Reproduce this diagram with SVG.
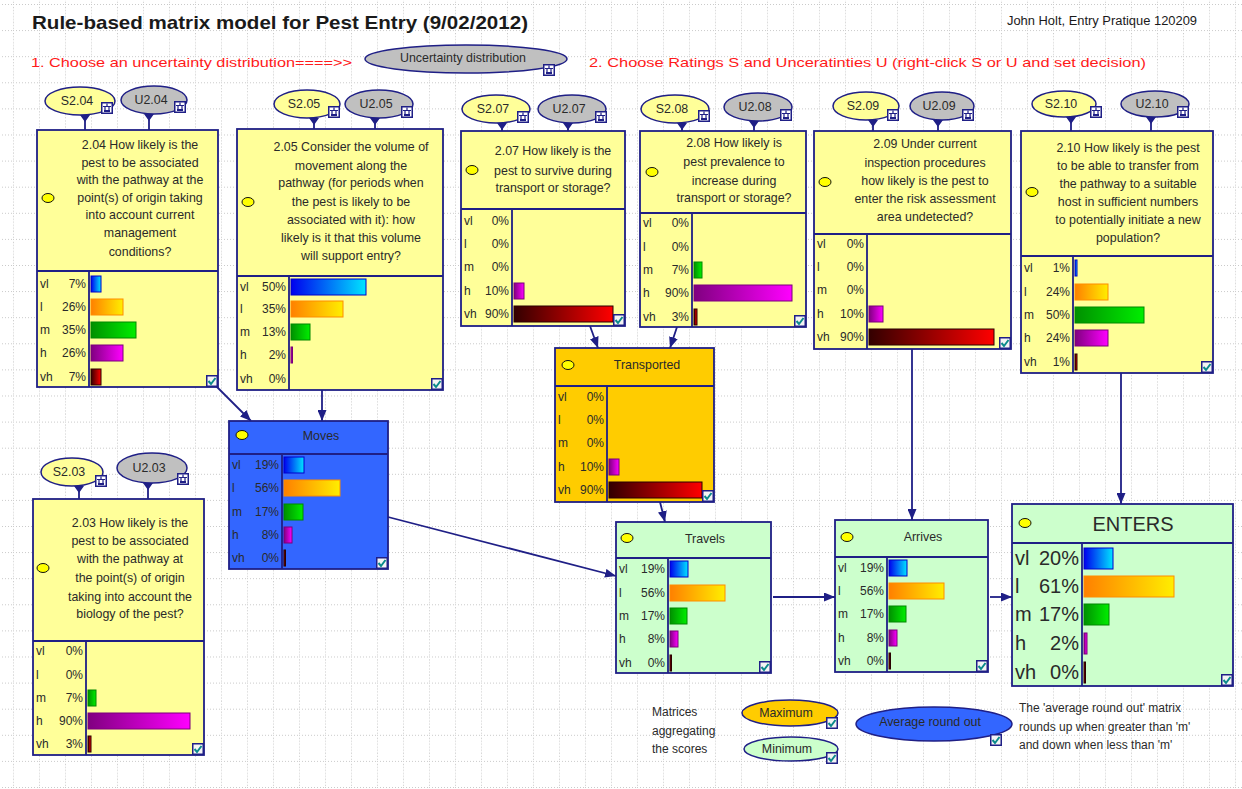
<svg xmlns="http://www.w3.org/2000/svg" xmlns:xlink="http://www.w3.org/1999/xlink" width="1242" height="789" viewBox="0 0 1242 789">
<defs>
<style>
.t{font-family:'Liberation Sans',Arial,sans-serif;font-size:12px;fill:#2a2a2a}
.q{font-family:'Liberation Sans',Arial,sans-serif;font-size:12.4px;fill:#2a2a2a;text-anchor:middle}
.p{text-anchor:end}
.big{font-size:20px}
.box{stroke:#1f1f86;stroke-width:1.8}
.div{stroke:#1f1f86;stroke-width:1.8;fill:none}
.ell{stroke:#1f1f86;stroke-width:1.5}
.ico{fill:#ffff00;stroke:#111;stroke-width:1}
.con{stroke:#1f1f86;stroke-width:1.8;fill:none}
.tip{fill:#1f1f86}
.red{font-family:'Liberation Sans',Arial,sans-serif;font-size:13px;fill:#ff1a1a}
.b1{fill:url(#g1);stroke:#0000cc;stroke-width:1}
.b2{fill:url(#g2);stroke:#ff8c00;stroke-width:1}
.b3{fill:url(#g3);stroke:#008800;stroke-width:1}
.b4{fill:url(#g4);stroke:#7a007a;stroke-width:1}
.b5{fill:url(#g5);stroke:#2a0000;stroke-width:1}
.yel{fill:#ffff99}
.org{fill:#ffcc00}
.blu{fill:#3366ff}
.grn{fill:#ccffcc}
.gry{fill:#c0c0c0}
</style>
<pattern id="grid" x="13" y="4" width="26" height="26.1" patternUnits="userSpaceOnUse">
<path d="M0 0.5H26M0.5 0V26.1" stroke="#c9c9c9" stroke-width="1" stroke-dasharray="1 2"/>
</pattern>
<linearGradient id="g1"><stop offset="0" stop-color="#0000ee"/><stop offset="1" stop-color="#00e5ff"/></linearGradient>
<linearGradient id="g2"><stop offset="0" stop-color="#ff8000"/><stop offset="1" stop-color="#ffee00"/></linearGradient>
<linearGradient id="g3"><stop offset="0" stop-color="#009000"/><stop offset="1" stop-color="#00ee00"/></linearGradient>
<linearGradient id="g4"><stop offset="0" stop-color="#800080"/><stop offset="1" stop-color="#ff00ff"/></linearGradient>
<linearGradient id="g5"><stop offset="0" stop-color="#330000"/><stop offset="1" stop-color="#ff0000"/></linearGradient>
<marker id="ah" markerWidth="11" markerHeight="9" refX="11" refY="4.5" orient="auto" markerUnits="userSpaceOnUse">
<path d="M0 0L11 4.5L0 9z" fill="#1f1f86"/>
</marker>
<symbol id="chk" viewBox="0 0 12 12">
<rect x="0.75" y="0.75" width="10.5" height="10.5" fill="#f4f4f4" stroke="#1f1f86" stroke-width="1.5"/>
<path d="M2.5 6l2.5 3 4.5-6" fill="none" stroke="#0a8a8a" stroke-width="2"/>
</symbol>
<symbol id="dec" viewBox="0 0 12 12">
<rect x="0.75" y="0.75" width="10.5" height="10.5" fill="#fff" stroke="#1f1f86" stroke-width="1.5"/>
<path d="M2 4.5h8M6 1.5v3M4 5v4h4V5" fill="none" stroke="#1f1f86" stroke-width="1.2"/>
<rect x="3" y="8" width="6" height="2" fill="#1f1f86"/>
</symbol>
</defs>

<!-- background sheet with dotted grid -->
<rect width="1242" height="789" fill="#fff"/>
<rect width="1242" height="789" fill="url(#grid)"/>

<!-- headings -->
<g id="headings">
<text x="32" y="29" font-family="'Liberation Sans',Arial,sans-serif" font-size="19" font-weight="bold" fill="#1a1a1a" textLength="496" lengthAdjust="spacingAndGlyphs">Rule-based matrix model for Pest Entry (9/02/2012)</text>
<text x="1007" y="25" font-family="'Liberation Sans',Arial,sans-serif" font-size="12" fill="#1a1a1a" textLength="190" lengthAdjust="spacingAndGlyphs">John Holt, Entry Pratique 120209</text>
<text class="red" x="31" y="67" textLength="321" lengthAdjust="spacingAndGlyphs">1. Choose an uncertainty distribution====&gt;&gt;</text>
<text class="red" x="589" y="67" textLength="557" lengthAdjust="spacingAndGlyphs">2. Choose Ratings S and Unceratinties U (right-click S or U and set decision)</text>
</g>

<g id="uncertainty">
<ellipse class="ell gry" cx="466" cy="59" rx="101" ry="14"/>
<text class="q" x="463" y="62" font-size="11.5">Uncertainty distribution</text>
<use href="#dec" x="543" y="64" width="12" height="12"/>
</g>

<!-- connectors -->
<g id="connectors">
<path class="con" d="M85 115V130M149 114V130M314 118V129M375 118V129M502 123V131M568 123V131M682 123V131M754 121V131M873 120V131M938 120V131M1071 117V131M1151 117V131M79 486V499M148 483V499"/>
<path class="tip" d="M80 115h10l-5 7zM144 114h10l-5 7zM309 118h10l-5 7zM370 118h10l-5 7zM497 123h10l-5 7zM563 123h10l-5 7zM677 123h10l-5 7zM749 121h10l-5 7zM868 120h10l-5 7zM933 120h10l-5 7zM1066 117h10l-5 7zM1146 117h10l-5 7zM74 486h10l-5 7zM143 483h10l-5 7z"/>
<path class="con" marker-end="url(#ah)" d="M216 386L251 421"/>
<path class="con" marker-end="url(#ah)" d="M322 390V421"/>
<path class="con" marker-end="url(#ah)" d="M388 517L616 576"/>
<path class="con" marker-end="url(#ah)" d="M590 326L598 348"/>
<path class="con" marker-end="url(#ah)" d="M677 327L670 348"/>
<path class="con" marker-end="url(#ah)" d="M660 502L665 522"/>
<path class="con" marker-end="url(#ah)" d="M773 597H835"/>
<path class="con" marker-end="url(#ah)" d="M912 349V520"/>
<path class="con" marker-end="url(#ah)" d="M990 597H1012"/>
<path class="con" marker-end="url(#ah)" d="M1121 373V504"/>
</g>

<!-- rating (S) and uncertainty (U) decision nodes -->
<g id="S2.04"><ellipse class="ell yel" cx="80" cy="101" rx="35" ry="14"/><text class="q" x="77" y="105">S2.04</text><use href="#dec" x="101" y="102" width="12" height="12"/></g>
<g id="U2.04"><ellipse class="ell gry" cx="154" cy="100" rx="33" ry="14"/><text class="q" x="151" y="104">U2.04</text><use href="#dec" x="174" y="101" width="12" height="12"/></g>
<g id="S2.05"><ellipse class="ell yel" cx="307" cy="104" rx="33" ry="14"/><text class="q" x="304" y="108">S2.05</text><use href="#dec" x="328" y="106" width="12" height="12"/></g>
<g id="U2.05"><ellipse class="ell gry" cx="379" cy="104" rx="34" ry="14"/><text class="q" x="376" y="108">U2.05</text><use href="#dec" x="401" y="106" width="12" height="12"/></g>
<g id="S2.07"><ellipse class="ell yel" cx="496" cy="109" rx="34" ry="14"/><text class="q" x="493" y="113">S2.07</text><use href="#dec" x="517" y="111" width="12" height="12"/></g>
<g id="U2.07"><ellipse class="ell gry" cx="572" cy="109" rx="34" ry="14"/><text class="q" x="569" y="113">U2.07</text><use href="#dec" x="595" y="111" width="12" height="12"/></g>
<g id="S2.08"><ellipse class="ell yel" cx="675" cy="109" rx="34" ry="14"/><text class="q" x="672" y="113">S2.08</text><use href="#dec" x="698" y="110" width="12" height="12"/></g>
<g id="U2.08"><ellipse class="ell gry" cx="758" cy="107" rx="34" ry="14"/><text class="q" x="755" y="111">U2.08</text><use href="#dec" x="780" y="109" width="12" height="12"/></g>
<g id="S2.09"><ellipse class="ell yel" cx="866" cy="106" rx="33" ry="14"/><text class="q" x="863" y="110">S2.09</text><use href="#dec" x="887" y="109" width="12" height="12"/></g>
<g id="U2.09"><ellipse class="ell gry" cx="942" cy="106" rx="32" ry="14"/><text class="q" x="939" y="110">U2.09</text><use href="#dec" x="962" y="109" width="12" height="12"/></g>
<g id="S2.10"><ellipse class="ell yel" cx="1064" cy="104" rx="32" ry="13"/><text class="q" x="1061" y="108">S2.10</text><use href="#dec" x="1090" y="106" width="12" height="12"/></g>
<g id="U2.10"><ellipse class="ell gry" cx="1155" cy="104" rx="34" ry="13"/><text class="q" x="1152" y="108">U2.10</text><use href="#dec" x="1177" y="106" width="12" height="12"/></g>
<g id="S2.03"><ellipse class="ell yel" cx="72" cy="472" rx="31" ry="14"/><text class="q" x="69" y="476">S2.03</text><use href="#dec" x="95" y="475" width="12" height="12"/></g>
<g id="U2.03"><ellipse class="ell gry" cx="152" cy="468" rx="35" ry="15"/><text class="q" x="149" y="472">U2.03</text><use href="#dec" x="177" y="473" width="12" height="12"/></g>

<!-- question 2.04 -->
<g id="Q2.04">
<rect class="box yel" x="37" y="130" width="181" height="257"/>
<path class="div" d="M37 271H218M89 271V387"/>
<ellipse class="ico" cx="48" cy="198" rx="6" ry="4.5"/>
<text class="q" x="140" y="149">2.04 How likely is the</text>
<text class="q" x="140" y="167">pest to be associated</text>
<text class="q" x="140" y="184">with the pathway at the</text>
<text class="q" x="140" y="202">point(s) of origin taking</text>
<text class="q" x="140" y="219">into account current</text>
<text class="q" x="140" y="237">management</text>
<text class="q" x="140" y="256">conditions?</text>
<text class="t" x="40" y="288">vl</text><text class="t p" x="86" y="288">7%</text>
<text class="t" x="40" y="311">l</text><text class="t p" x="86" y="311">26%</text>
<text class="t" x="40" y="334">m</text><text class="t p" x="86" y="334">35%</text>
<text class="t" x="40" y="357">h</text><text class="t p" x="86" y="357">26%</text>
<text class="t" x="40" y="381">vh</text><text class="t p" x="86" y="381">7%</text>
<rect class="b1" x="91" y="276" width="10" height="16"/>
<rect class="b2" x="91" y="299" width="32" height="16"/>
<rect class="b3" x="91" y="322" width="45" height="16"/>
<rect class="b4" x="91" y="345" width="32" height="16"/>
<rect class="b5" x="91" y="369" width="10" height="16"/>
<use href="#chk" x="206" y="375" width="12" height="12"/>
</g>

<!-- question 2.05 -->
<g id="Q2.05">
<rect class="box yel" x="237" y="129" width="206" height="261"/>
<path class="div" d="M237 276H443M289 276V390"/>
<ellipse class="ico" cx="248" cy="202" rx="6" ry="4.5"/>
<text class="q" x="351" y="151">2.05 Consider the volume of</text>
<text class="q" x="351" y="170">movement along the</text>
<text class="q" x="351" y="187">pathway (for periods when</text>
<text class="q" x="351" y="206">the pest is likely to be</text>
<text class="q" x="351" y="224">associated with it): how</text>
<text class="q" x="351" y="242">likely is it that this volume</text>
<text class="q" x="351" y="260">will support entry?</text>
<text class="t" x="240" y="291">vl</text><text class="t p" x="286" y="291">50%</text>
<text class="t" x="240" y="313">l</text><text class="t p" x="286" y="313">35%</text>
<text class="t" x="240" y="336">m</text><text class="t p" x="286" y="336">13%</text>
<text class="t" x="240" y="359">h</text><text class="t p" x="286" y="359">2%</text>
<text class="t" x="240" y="383">vh</text><text class="t p" x="286" y="383">0%</text>
<rect class="b1" x="291" y="279" width="75" height="16"/>
<rect class="b2" x="291" y="301" width="52" height="16"/>
<rect class="b3" x="291" y="324" width="19" height="16"/>
<rect class="b4" x="291" y="347" width="1.5" height="16"/>
<use href="#chk" x="431" y="378" width="12" height="12"/>
</g>

<!-- question 2.07 -->
<g id="Q2.07">
<rect class="box yel" x="461" y="131" width="164" height="195"/>
<path class="div" d="M461 209H625M512 209V326"/>
<ellipse class="ico" cx="472" cy="170" rx="6" ry="4.5"/>
<text class="q" x="553" y="155">2.07 How likely is the</text>
<text class="q" x="553" y="175">pest to survive during</text>
<text class="q" x="553" y="192">transport or storage?</text>
<text class="t" x="464" y="225">vl</text><text class="t p" x="509" y="225">0%</text>
<text class="t" x="464" y="248">l</text><text class="t p" x="509" y="248">0%</text>
<text class="t" x="464" y="271">m</text><text class="t p" x="509" y="271">0%</text>
<text class="t" x="464" y="295">h</text><text class="t p" x="509" y="295">10%</text>
<text class="t" x="464" y="318">vh</text><text class="t p" x="509" y="318">90%</text>
<rect class="b4" x="514" y="283" width="10" height="16"/>
<rect class="b5" x="514" y="306" width="99" height="16"/>
<use href="#chk" x="613" y="314" width="12" height="12"/>
</g>

<!-- question 2.08 -->
<g id="Q2.08">
<rect class="box yel" x="640" y="131" width="166" height="196"/>
<path class="div" d="M640 213H806M692 213V327"/>
<ellipse class="ico" cx="652" cy="172" rx="6" ry="4.5"/>
<text class="q" x="734" y="147">2.08 How likely is</text>
<text class="q" x="734" y="166">pest prevalence to</text>
<text class="q" x="734" y="185">increase during</text>
<text class="q" x="734" y="202">transport or storage?</text>
<text class="t" x="643" y="227">vl</text><text class="t p" x="689" y="227">0%</text>
<text class="t" x="643" y="251">l</text><text class="t p" x="689" y="251">0%</text>
<text class="t" x="643" y="274">m</text><text class="t p" x="689" y="274">7%</text>
<text class="t" x="643" y="297">h</text><text class="t p" x="689" y="297">90%</text>
<text class="t" x="643" y="321">vh</text><text class="t p" x="689" y="321">3%</text>
<rect class="b3" x="694" y="262" width="8" height="16"/>
<rect class="b4" x="694" y="285" width="98" height="16"/>
<rect class="b5" x="694" y="309" width="3" height="16"/>
<use href="#chk" x="794" y="315" width="12" height="12"/>
</g>

<!-- question 2.09 -->
<g id="Q2.09">
<rect class="box yel" x="814" y="131" width="197" height="218"/>
<path class="div" d="M814 234H1011M867 234V349"/>
<ellipse class="ico" cx="825" cy="182" rx="6" ry="4.5"/>
<text class="q" x="925" y="148">2.09 Under current</text>
<text class="q" x="925" y="167">inspection procedures</text>
<text class="q" x="925" y="185">how likely is the pest to</text>
<text class="q" x="925" y="203">enter the risk assessment</text>
<text class="q" x="925" y="221">area undetected?</text>
<text class="t" x="817" y="248">vl</text><text class="t p" x="864" y="248">0%</text>
<text class="t" x="817" y="271">l</text><text class="t p" x="864" y="271">0%</text>
<text class="t" x="817" y="294">m</text><text class="t p" x="864" y="294">0%</text>
<text class="t" x="817" y="318">h</text><text class="t p" x="864" y="318">10%</text>
<text class="t" x="817" y="341">vh</text><text class="t p" x="864" y="341">90%</text>
<rect class="b4" x="869" y="306" width="14" height="16"/>
<rect class="b5" x="869" y="329" width="125" height="16"/>
<use href="#chk" x="999" y="337" width="12" height="12"/>
</g>

<!-- question 2.10 -->
<g id="Q2.10">
<rect class="box yel" x="1021" y="131" width="192" height="242"/>
<path class="div" d="M1021 256H1213M1073 256V373"/>
<ellipse class="ico" cx="1032" cy="192" rx="6" ry="4.5"/>
<text class="q" x="1128" y="152">2.10 How likely is the pest</text>
<text class="q" x="1128" y="170">to be able to transfer from</text>
<text class="q" x="1128" y="188">the pathway to a suitable</text>
<text class="q" x="1128" y="206">host in sufficient numbers</text>
<text class="q" x="1128" y="224">to potentially initiate a new</text>
<text class="q" x="1128" y="242">population?</text>
<text class="t" x="1024" y="272">vl</text><text class="t p" x="1070" y="272">1%</text>
<text class="t" x="1024" y="296">l</text><text class="t p" x="1070" y="296">24%</text>
<text class="t" x="1024" y="319">m</text><text class="t p" x="1070" y="319">50%</text>
<text class="t" x="1024" y="342">h</text><text class="t p" x="1070" y="342">24%</text>
<text class="t" x="1024" y="366">vh</text><text class="t p" x="1070" y="366">1%</text>
<rect class="b1" x="1075" y="260" width="2" height="16"/>
<rect class="b2" x="1075" y="284" width="33" height="16"/>
<rect class="b3" x="1075" y="307" width="69" height="16"/>
<rect class="b4" x="1075" y="330" width="33" height="16"/>
<rect class="b5" x="1075" y="354" width="2" height="16"/>
<use href="#chk" x="1201" y="361" width="12" height="12"/>
</g>

<!-- question 2.03 -->
<g id="Q2.03">
<rect class="box yel" x="33" y="499" width="171" height="256"/>
<path class="div" d="M33 641H204M86 641V755"/>
<ellipse class="ico" cx="43" cy="568" rx="6" ry="4.5"/>
<text class="q" x="130" y="527">2.03 How likely is the</text>
<text class="q" x="130" y="545">pest to be associated</text>
<text class="q" x="130" y="563">with the pathway at</text>
<text class="q" x="130" y="582">the point(s) of origin</text>
<text class="q" x="130" y="601">taking into account the</text>
<text class="q" x="130" y="618">biology of the pest?</text>
<text class="t" x="36" y="655">vl</text><text class="t p" x="83" y="655">0%</text>
<text class="t" x="36" y="679">l</text><text class="t p" x="83" y="679">0%</text>
<text class="t" x="36" y="702">m</text><text class="t p" x="83" y="702">7%</text>
<text class="t" x="36" y="725">h</text><text class="t p" x="83" y="725">90%</text>
<text class="t" x="36" y="748">vh</text><text class="t p" x="83" y="748">3%</text>
<rect class="b3" x="88" y="690" width="8" height="16"/>
<rect class="b4" x="88" y="713" width="102" height="16"/>
<rect class="b5" x="88" y="736" width="3" height="16"/>
<use href="#chk" x="192" y="743" width="12" height="12"/>
</g>

<!-- aggregating matrix: Transported (maximum) -->
<g id="Transported">
<rect class="box org" x="555" y="348" width="159" height="154"/>
<path class="div" d="M555 386H714M607 386V502"/>
<ellipse class="ico" cx="568" cy="365" rx="6" ry="4.5"/>
<text class="q" x="647" y="369">Transported</text>
<text class="t" x="558" y="401">vl</text><text class="t p" x="604" y="401">0%</text>
<text class="t" x="558" y="424">l</text><text class="t p" x="604" y="424">0%</text>
<text class="t" x="558" y="447">m</text><text class="t p" x="604" y="447">0%</text>
<text class="t" x="558" y="471">h</text><text class="t p" x="604" y="471">10%</text>
<text class="t" x="558" y="494">vh</text><text class="t p" x="604" y="494">90%</text>
<rect class="b4" x="609" y="459" width="10" height="16"/>
<rect class="b5" x="609" y="482" width="93" height="16"/>
<use href="#chk" x="702" y="490" width="12" height="12"/>
</g>

<!-- aggregating matrix: Moves (average round out) -->
<g id="Moves">
<rect class="box blu" x="229" y="421" width="159" height="148"/>
<path class="div" d="M229 454H388M282 454V569"/>
<ellipse class="ico" cx="242" cy="435" rx="6" ry="4.5"/>
<text class="q" x="321" y="440">Moves</text>
<text class="t" x="232" y="469">vl</text><text class="t p" x="279" y="469">19%</text>
<text class="t" x="232" y="492">l</text><text class="t p" x="279" y="492">56%</text>
<text class="t" x="232" y="516">m</text><text class="t p" x="279" y="516">17%</text>
<text class="t" x="232" y="539">h</text><text class="t p" x="279" y="539">8%</text>
<text class="t" x="232" y="562">vh</text><text class="t p" x="279" y="562">0%</text>
<rect class="b1" x="284" y="457" width="20" height="16"/>
<rect class="b2" x="284" y="480" width="56" height="16"/>
<rect class="b3" x="284" y="504" width="19" height="16"/>
<rect class="b4" x="284" y="527" width="8" height="16"/>
<rect class="b5" x="284" y="550" width="1.5" height="16"/>
<use href="#chk" x="376" y="557" width="12" height="12"/>
</g>

<!-- aggregating matrix: Travels (minimum) -->
<g id="Travels">
<rect class="box grn" x="616" y="522" width="155" height="151"/>
<path class="div" d="M616 558H771M668 558V673"/>
<ellipse class="ico" cx="627" cy="538" rx="6" ry="4.5"/>
<text class="q" x="705" y="543">Travels</text>
<text class="t" x="619" y="573">vl</text><text class="t p" x="665" y="573">19%</text>
<text class="t" x="619" y="597">l</text><text class="t p" x="665" y="597">56%</text>
<text class="t" x="619" y="620">m</text><text class="t p" x="665" y="620">17%</text>
<text class="t" x="619" y="643">h</text><text class="t p" x="665" y="643">8%</text>
<text class="t" x="619" y="667">vh</text><text class="t p" x="665" y="667">0%</text>
<rect class="b1" x="670" y="561" width="18" height="16"/>
<rect class="b2" x="670" y="585" width="55" height="16"/>
<rect class="b3" x="670" y="608" width="17" height="16"/>
<rect class="b4" x="670" y="631" width="8" height="16"/>
<rect class="b5" x="670" y="655" width="1.5" height="16"/>
<use href="#chk" x="759" y="661" width="12" height="12"/>
</g>

<!-- aggregating matrix: Arrives (minimum) -->
<g id="Arrives">
<rect class="box grn" x="835" y="520" width="153" height="152"/>
<path class="div" d="M835 557H988M887 557V672"/>
<ellipse class="ico" cx="847" cy="537" rx="6" ry="4.5"/>
<text class="q" x="923" y="541">Arrives</text>
<text class="t" x="838" y="572">vl</text><text class="t p" x="884" y="572">19%</text>
<text class="t" x="838" y="595">l</text><text class="t p" x="884" y="595">56%</text>
<text class="t" x="838" y="618">m</text><text class="t p" x="884" y="618">17%</text>
<text class="t" x="838" y="642">h</text><text class="t p" x="884" y="642">8%</text>
<text class="t" x="838" y="665">vh</text><text class="t p" x="884" y="665">0%</text>
<rect class="b1" x="889" y="560" width="18" height="16"/>
<rect class="b2" x="889" y="583" width="55" height="16"/>
<rect class="b3" x="889" y="606" width="17" height="16"/>
<rect class="b4" x="889" y="630" width="8" height="16"/>
<rect class="b5" x="889" y="653" width="1.5" height="16"/>
<use href="#chk" x="976" y="660" width="12" height="12"/>
</g>

<!-- final node: ENTERS (minimum) -->
<g id="ENTERS">
<rect class="box grn" x="1012" y="504" width="221" height="182"/>
<path class="div" d="M1012 543H1233M1082 543V686"/>
<ellipse class="ico" cx="1025" cy="523" rx="6" ry="4.5"/>
<text class="q big" x="1133" y="531">ENTERS</text>
<text class="t big" x="1015" y="565">vl</text><text class="t p big" x="1079" y="565">20%</text>
<text class="t big" x="1015" y="593">l</text><text class="t p big" x="1079" y="593">61%</text>
<text class="t big" x="1015" y="621">m</text><text class="t p big" x="1079" y="621">17%</text>
<text class="t big" x="1015" y="650">h</text><text class="t p big" x="1079" y="650">2%</text>
<text class="t big" x="1015" y="679">vh</text><text class="t p big" x="1079" y="679">0%</text>
<rect class="b1" x="1084" y="548" width="29" height="21"/>
<rect class="b2" x="1084" y="576" width="90" height="21"/>
<rect class="b3" x="1084" y="604" width="25" height="21"/>
<rect class="b4" x="1084" y="633" width="3" height="21"/>
<rect class="b5" x="1084" y="662" width="1.5" height="21"/>
<use href="#chk" x="1221" y="674" width="12" height="12"/>
</g>

<!-- key to the aggregating matrices -->
<g id="legend">
<text class="t" x="652" y="716">Matrices</text>
<text class="t" x="652" y="735">aggregating</text>
<text class="t" x="652" y="753">the scores</text>
<ellipse class="ell org" cx="790" cy="713" rx="48" ry="13"/>
<text class="q" x="786" y="717">Maximum</text>
<use href="#chk" x="826" y="717" width="12" height="12"/>
<ellipse class="ell grn" cx="791" cy="749" rx="47" ry="12"/>
<text class="q" x="787" y="753">Minimum</text>
<use href="#chk" x="826" y="752" width="12" height="12"/>
<ellipse class="ell blu" cx="934" cy="724" rx="78" ry="17"/>
<text class="q" x="930" y="726">Average round out</text>
<use href="#chk" x="990" y="734" width="12" height="12"/>
<text class="t" x="1019" y="712">The 'average round out' matrix</text>
<text class="t" x="1019" y="731">rounds up when greater than 'm'</text>
<text class="t" x="1019" y="749">and down when less than 'm'</text>
</g>
</svg>
